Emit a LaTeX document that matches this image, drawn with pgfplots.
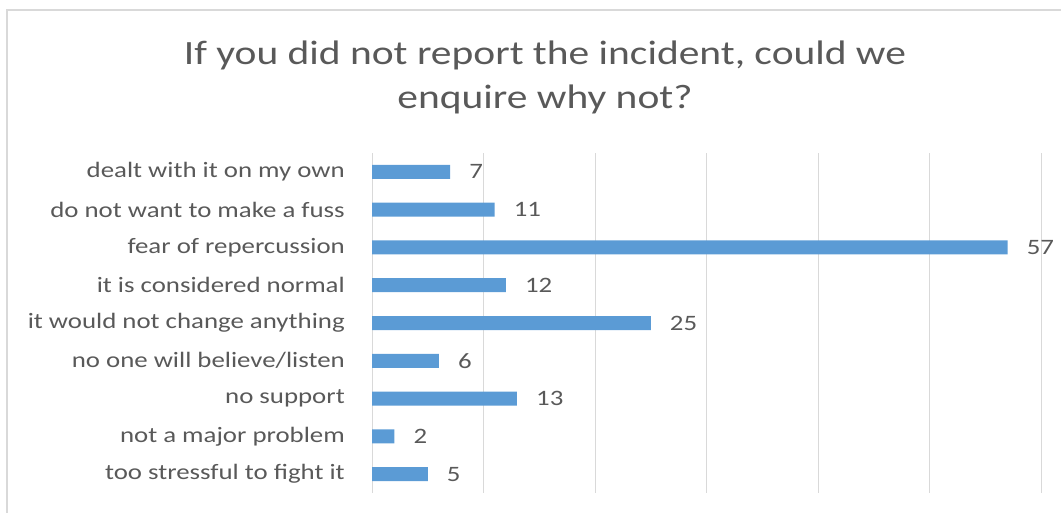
\documentclass[border=0pt]{standalone}
\usepackage{pgfplots}
\pgfplotsset{compat=1.18}
\usepackage{fontspec}
\setmainfont{Carlito}[FakeStretch=1.22]
\definecolor{barblue}{HTML}{5B9BD5}
\definecolor{txtgray}{HTML}{595959}
\definecolor{gridgray}{HTML}{D9D9D9}

\begin{document}
\begin{tikzpicture}[x=1bp,y=1bp]
\path[use as bounding box] (0,0) rectangle (1061,513);
% chart frame (only top and left edges are visible)
\draw[gridgray, line width=1.5bp] (7,0) -- (7,503) -- (1061,503);
% title
\node[anchor=base, inner sep=0pt, text=txtgray, font=\fontsize{34bp}{44bp}\selectfont] at (545,448) {If you did not report the incident, could we};
\node[anchor=base, inner sep=0pt, text=txtgray, font=\fontsize{34bp}{44bp}\selectfont] at (545,404) {enquire why not?};

\begin{axis}[
    at={(372bp,20bp)}, anchor=south west,
    scale only axis,
    width=669bp, height=340bp,
    xbar,
    bar width=14bp,
    xmin=0, xmax=60,
    ymin=-0.5, ymax=8.5,
    y dir=reverse,
    xtick={0,10,...,60},
    xticklabels={},
    xmajorgrids=true,
    grid style={gridgray, line width=1bp},
    axis line style={draw=none},
    major tick length=0pt,
    ytick={0,...,8},
    yticklabels={dealt with it on my own, do not want to make a fuss, fear of repercussion,
                 it is considered normal, it would not change anything, no one will believe/listen,
                 no support, not a major problem, too stressful to fight it},
    yticklabel style={font=\fontsize{22bp}{26bp}\selectfont, text=txtgray, inner sep=0pt, xshift=-27bp},
    point meta=x,
    nodes near coords,
    nodes near coords style={font=\fontsize{22bp}{26bp}\selectfont, text=txtgray, anchor=west, inner sep=0pt, xshift=19bp},
    /pgf/number format/assume math mode=true,
    ]
\addplot[fill=barblue, draw=none] coordinates {
    (7,0) (11,1) (57,2) (12,3) (25,4) (6,5) (13,6) (2,7) (5,8)};
\end{axis}
\end{tikzpicture}
\end{document}
